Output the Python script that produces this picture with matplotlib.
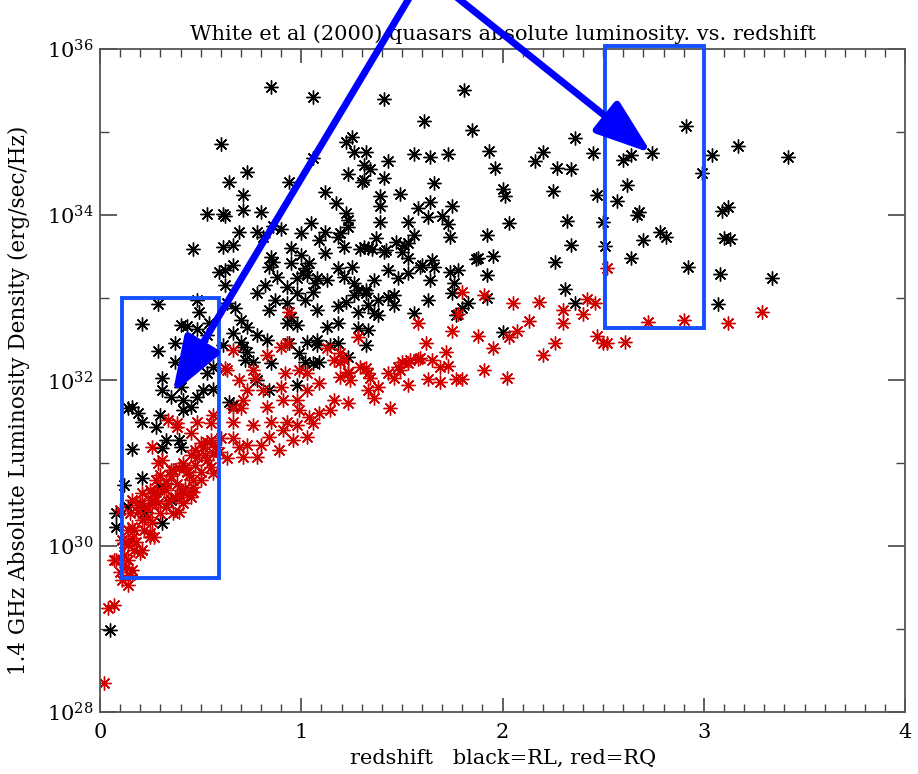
"""
White et al (2000) quasars: 1.4 GHz luminosity density vs redshift.
Black = radio loud (RL), red = radio quiet (RQ). Blue boxes/arrows are
hand-drawn highlights on top of the original IDL plot.
"""

import matplotlib
matplotlib.use("Agg")
import matplotlib.pyplot as plt
import numpy as np
from matplotlib.patches import Rectangle
from matplotlib.ticker import FixedLocator, MultipleLocator, NullFormatter

plt.rcParams["font.family"] = ["DejaVu Serif"]
plt.rcParams["mathtext.fontset"] = "dejavuserif"

# ------------------------------------------------------------------
# data: redshift and log10 of luminosity density (erg/sec/Hz)
# ------------------------------------------------------------------
rl_z = [
    0.85, 1.06, 1.41, 1.81, 0.60, 1.61, 1.85, 2.36, 2.45, 2.20, 2.16, 1.93,
    1.96, 2.27, 2.34, 2.25, 2.47, 2.00, 2.01, 2.03, 2.32, 2.50, 2.34, 2.51,
    2.26, 2.31, 1.92, 1.95, 1.87, 1.88, 1.92, 1.74, 1.75, 1.70, 1.73, 1.64,
    1.66, 1.63, 1.58, 1.53, 1.49, 1.39, 1.39, 1.39, 1.41, 1.43, 1.32, 1.31,
    1.34, 1.31, 1.56, 1.64, 1.73, 1.53, 1.50, 1.53, 1.33, 1.31, 1.35, 1.37,
    1.41, 1.43, 1.48, 1.53, 1.60, 1.65, 1.64, 1.74, 1.78, 1.76, 1.36, 1.32,
    2.91, 2.74, 2.64, 2.60, 2.62, 2.57, 2.67, 2.68, 2.78, 2.81, 2.70, 2.64,
    2.92, 2.99, 3.04, 3.17, 3.42, 3.09, 3.12, 3.10, 3.13, 3.08, 3.34, 2.36,
    3.07, 1.83, 1.80, 1.92, 2.00, 1.77, 1.75, 1.63, 1.56, 1.33, 1.32, 1.43,
    1.36, 0.64, 0.94, 0.71, 0.71, 0.80, 0.61, 1.12, 1.17, 1.22, 1.23, 1.30,
    0.69, 0.78, 0.81, 0.90, 1.00, 1.05, 1.12, 1.09, 1.18, 1.21, 1.12, 0.61,
    0.66, 0.85, 0.95, 1.00, 1.29, 1.42, 1.47, 1.51, 1.56, 1.59, 1.66, 0.62,
    0.62, 0.66, 0.86, 0.88, 0.93, 0.98, 1.02, 1.03, 1.08, 1.13, 1.18, 1.21,
    1.25, 1.26, 1.28, 1.32, 1.46, 1.38, 1.33, 1.26, 1.22, 1.18, 1.28, 1.38,
    1.46, 0.78, 0.84, 0.87, 0.93, 0.98, 1.02, 1.06, 0.95, 0.98, 0.93, 0.67,
    0.70, 0.66, 0.73, 0.78, 0.83, 0.71, 0.72, 0.85, 0.99, 1.03, 1.08, 1.13,
    1.18, 1.28, 1.23, 1.09, 1.02, 0.94, 0.73, 0.53, 0.62, 1.06, 1.22, 1.25,
    1.26, 1.23, 0.46, 0.86, 0.59, 0.84, 0.95, 1.04, 1.01, 1.19, 1.23, 1.07,
    0.82, 0.29, 0.21, 0.48, 0.49, 0.40, 0.43, 0.48, 0.54, 0.53, 0.37, 0.29,
    0.37, 0.56, 0.53, 0.31, 0.40, 0.31, 0.35, 0.41, 0.48, 0.51, 0.56, 0.45,
    0.41, 0.16, 0.14, 0.19, 0.21, 0.30, 0.28, 0.33, 0.31, 0.39, 0.40, 0.16,
    0.21, 0.12, 0.30, 0.35, 0.14, 0.63, 0.70, 0.73, 0.76, 0.78, 0.84, 0.98,
    0.64, 0.66, 0.61, 1.08, 1.18, 1.14, 1.08, 1.06, 0.08, 0.08, 0.05, 0.22,
    0.31,
]
rl_logL = [
    35.54, 35.42, 35.39, 35.50, 34.85, 35.13, 35.02, 34.92, 34.74, 34.76, 34.65, 34.77,
    34.56, 34.56, 34.55, 34.28, 34.24, 34.31, 34.22, 33.90, 33.92, 33.91, 33.63, 33.62,
    33.43, 33.10, 33.75, 33.50, 33.46, 33.48, 33.27, 33.73, 34.10, 33.98, 33.89, 34.15,
    34.38, 33.97, 34.08, 33.91, 34.25, 34.22, 34.10, 33.91, 34.44, 34.65, 34.76, 34.60,
    34.55, 34.42, 34.73, 34.69, 34.73, 33.66, 33.55, 33.48, 33.60, 33.61, 33.59, 33.72,
    33.55, 33.33, 33.24, 33.30, 33.39, 33.45, 33.21, 33.31, 33.33, 33.18, 33.21, 33.09,
    35.07, 34.74, 34.72, 34.66, 34.36, 34.16, 34.00, 34.03, 33.79, 33.73, 33.69, 33.48,
    33.37, 34.50, 34.72, 34.83, 34.69, 34.04, 34.09, 33.72, 33.71, 33.28, 33.24, 32.93,
    32.92, 32.93, 32.87, 32.99, 32.58, 32.79, 33.05, 32.97, 32.81, 32.61, 32.43, 33.01,
    32.81, 34.39, 34.39, 34.24, 34.06, 34.03, 34.01, 34.27, 34.14, 34.02, 33.94, 34.39,
    33.79, 33.79, 33.73, 33.83, 33.78, 33.90, 33.79, 33.69, 33.73, 33.61, 33.54, 33.61,
    33.63, 33.49, 33.60, 33.51, 33.59, 33.57, 33.67, 33.63, 33.75, 33.37, 33.37, 33.33,
    33.15, 33.39, 33.43, 33.25, 33.13, 33.24, 33.36, 33.27, 33.24, 33.21, 33.36, 33.25,
    33.37, 33.18, 33.09, 33.05, 33.03, 32.97, 32.91, 33.03, 32.95, 32.90, 32.83, 32.79,
    32.91, 33.05, 32.85, 32.97, 32.93, 33.05, 32.97, 33.07, 32.76, 32.67, 32.69, 32.87,
    32.73, 32.57, 32.64, 32.55, 32.49, 32.40, 32.25, 32.21, 32.33, 32.46, 32.49, 32.64,
    32.45, 32.63, 32.28, 32.22, 32.22, 32.45, 34.51, 34.01, 33.98, 34.68, 34.88, 34.94,
    34.76, 34.49, 33.59, 33.86, 33.31, 33.37, 33.42, 33.42, 33.30, 33.78, 33.85, 33.18,
    33.15, 32.92, 32.68, 32.97, 32.83, 32.67, 32.66, 32.62, 32.69, 32.55, 32.45, 32.35,
    32.22, 32.16, 32.09, 32.03, 31.92, 31.88, 31.80, 31.76, 31.80, 31.88, 31.90, 31.68,
    31.64, 31.68, 31.67, 31.61, 31.50, 31.58, 31.44, 31.28, 31.18, 31.28, 31.20, 31.17,
    30.82, 30.74, 30.71, 30.56, 30.47, 32.93, 32.46, 32.34, 32.22, 32.00, 31.88, 31.94,
    31.74, 31.70, 32.43, 32.85, 32.69, 32.43, 32.43, 32.21, 30.23, 30.40, 28.99, 30.41,
    30.28,
]

rq_z = [
    1.80, 1.91, 2.52, 2.05, 2.18, 2.30, 2.30, 2.40, 2.42, 2.46, 2.13, 2.07,
    2.03, 1.88, 1.95, 2.26, 2.20, 2.47, 2.50, 2.52, 2.61, 1.91, 2.02, 1.80,
    2.72, 2.90, 3.12, 3.29, 1.78, 1.75, 1.58, 1.62, 1.72, 1.73, 1.65, 1.69,
    1.63, 1.58, 1.53, 1.49, 1.46, 1.53, 1.77, 1.44, 1.32, 1.34, 1.38, 1.33,
    1.36, 0.94, 1.28, 0.66, 0.83, 0.90, 0.93, 0.62, 0.76, 0.92, 1.03, 1.13,
    1.19, 1.23, 1.29, 1.33, 1.43, 1.48, 1.50, 1.54, 1.59, 1.69, 0.34, 0.38,
    0.26, 0.45, 0.50, 0.53, 0.47, 0.41, 0.39, 0.35, 0.29, 0.30, 0.44, 0.46,
    0.40, 0.33, 0.25, 0.21, 0.41, 0.33, 0.26, 0.53, 0.55, 0.56, 0.55, 0.48,
    0.59, 0.56, 0.50, 0.45, 0.36, 0.20, 0.15, 0.10, 0.63, 0.69, 0.73, 0.77,
    0.81, 0.71, 0.66, 0.70, 0.66, 0.76, 0.83, 0.85, 0.84, 0.80, 0.73, 0.69,
    0.66, 0.63, 0.71, 0.78, 0.89, 0.90, 0.91, 0.98, 0.99, 0.93, 0.98, 1.04,
    1.06, 0.99, 1.03, 1.09, 1.16, 1.19, 1.23, 1.24, 1.16, 1.21, 1.19, 1.14,
    1.23, 1.09, 1.03, 0.96, 0.91, 0.08, 0.11, 0.16, 0.20, 0.25, 0.26, 0.28,
    0.31, 0.33, 0.36, 0.40, 0.42, 0.46, 0.48, 0.51, 0.55, 0.56, 0.38, 0.02,
    0.04, 0.07, 0.11, 0.14, 0.16, 0.14, 0.17, 0.21, 0.14, 0.16, 0.14, 0.17,
    0.25, 0.27, 0.21, 0.26, 0.19, 0.24, 0.29, 0.39, 0.37, 0.27, 0.32, 0.41,
    0.46, 0.16, 0.12, 0.10, 0.07, 0.13, 0.15, 0.12, 0.18, 0.22, 0.24, 0.30,
    0.34, 0.38, 0.43, 0.47, 0.52, 0.57, 0.60, 0.45, 0.35, 0.28, 0.20, 0.50,
    0.42,
]
rq_logL = [
    33.07, 33.03, 33.36, 32.93, 32.95, 32.85, 32.69, 32.80, 32.98, 32.93, 32.72, 32.60,
    32.52, 32.54, 32.39, 32.45, 32.31, 32.54, 32.45, 32.45, 32.46, 32.13, 32.03, 32.02,
    32.70, 32.73, 32.69, 32.83, 32.80, 32.60, 32.69, 32.45, 32.34, 32.17, 32.25, 31.98,
    32.02, 32.26, 32.21, 32.13, 32.03, 31.94, 32.02, 31.67, 32.15, 32.03, 31.92, 31.88,
    31.79, 32.83, 32.52, 32.37, 32.31, 32.40, 32.45, 32.15, 32.13, 32.09, 32.09, 32.39,
    32.22, 32.10, 32.16, 32.09, 32.09, 32.16, 32.22, 32.25, 32.27, 32.16, 31.52, 31.49,
    31.20, 31.37, 31.24, 31.26, 31.16, 31.00, 30.94, 30.92, 31.00, 30.86, 30.86, 30.71,
    30.68, 30.68, 30.68, 30.64, 30.52, 30.47, 30.52, 31.04, 30.96, 31.58, 31.49, 31.50,
    31.14, 30.88, 30.80, 30.59, 30.40, 30.52, 30.40, 30.44, 32.13, 32.00, 31.88, 32.03,
    31.88, 31.76, 31.67, 31.67, 31.50, 31.46, 31.68, 31.50, 31.32, 31.22, 31.22, 31.20,
    31.31, 31.06, 31.08, 31.08, 31.16, 31.92, 31.76, 31.76, 31.64, 31.50, 31.46, 31.56,
    31.49, 32.13, 31.88, 31.97, 31.76, 32.04, 32.09, 32.00, 32.25, 32.25, 32.33, 31.64,
    31.73, 31.61, 31.32, 31.28, 31.40, 29.83, 30.07, 30.23, 29.92, 30.11, 30.56, 30.80,
    31.04, 30.76, 30.92, 30.59, 30.96, 30.80, 31.08, 31.20, 31.28, 31.12, 31.44, 28.35,
    29.25, 29.29, 29.59, 29.53, 29.71, 29.83, 29.95, 29.95, 30.01, 30.10, 30.20, 30.20,
    30.16, 30.11, 30.32, 30.29, 30.41, 30.46, 30.52, 30.41, 30.59, 30.64, 30.70, 30.65,
    30.65, 30.56, 30.04, 29.69, 29.83, 29.75, 29.65, 29.90, 30.05, 30.20, 30.35, 30.40,
    30.55, 30.75, 30.90, 30.98, 31.10, 31.20, 31.30, 31.10, 30.85, 30.65, 30.50, 30.90,
    30.70,
]

# highlight boxes: (z_min, z_max, logL_min, logL_max)
low_z_box = (0.11, 0.59, 29.62, 33.0)
high_z_box = (2.51, 3.0, 32.63, 36.03)
# arrow tips (z, logL) and tails (figure fraction)
arrow_tips = [(0.36, 31.84), (2.74, 34.74)]
arrow_tails = [(0.447, 1.005), (0.496, 1.005)]

TITLE = "White et al (2000) quasars absolute luminosity. vs. redshift"
XLABEL = "redshift   black=RL, red=RQ"
YLABEL = "1.4 GHz Absolute Luminosity Density (erg/sec/Hz)"


# ------------------------------------------------------------------
def main():
    fig = plt.figure(figsize=(9.18, 7.74), dpi=100)
    ax = fig.add_axes([0.109, 0.080, 0.877, 0.857])

    star = (8, 2, 0)   # IDL psym=2 style asterisk
    ax.plot(rl_z, 10.0 ** np.array(rl_logL), ls="none", marker=star,
            ms=10, mew=1.0, color="black")
    ax.plot(rq_z, 10.0 ** np.array(rq_logL), ls="none", marker=star,
            ms=10, mew=1.0, color="#d10000")

    ax.set_yscale("log")
    ax.set_xlim(0, 4)
    ax.set_ylim(1e28, 1e36)

    ax.xaxis.set_major_locator(MultipleLocator(1))
    ax.xaxis.set_minor_locator(MultipleLocator(0.1))
    ax.yaxis.set_major_locator(FixedLocator([10.0 ** e for e in range(28, 37, 2)]))
    ax.yaxis.set_minor_locator(FixedLocator([10.0 ** e for e in range(29, 36, 2)]))
    ax.yaxis.set_minor_formatter(NullFormatter())

    ax.tick_params(which="both", direction="in", top=True, right=True,
                   color="#444444", labelsize=15)
    ax.tick_params(axis="x", which="major", length=10, width=1.2, pad=8)
    ax.tick_params(axis="x", which="minor", length=5.5, width=1.0)
    ax.tick_params(axis="y", which="major", length=12, width=1.2, pad=5)
    ax.tick_params(axis="y", which="minor", length=6.5, width=1.0)
    for spine in ax.spines.values():
        spine.set_edgecolor("#555555")
        spine.set_linewidth(1.3)

    ax.set_title(TITLE, fontsize=15, pad=6)
    ax.set_xlabel(XLABEL, fontsize=15, labelpad=5)
    ax.set_ylabel(YLABEL, fontsize=15.5)
    ax.yaxis.set_label_coords(-0.087, 0.47)

    # blue highlight boxes
    for z0, z1, l0, l1 in (low_z_box, high_z_box):
        ax.add_patch(Rectangle((z0, 10.0 ** l0), z1 - z0, 10.0 ** l1 - 10.0 ** l0,
                               fill=False, ec="#1450ff", lw=2.8, clip_on=False,
                               zorder=5))

    # blue arrows coming in from above the plot
    for (tz, tl), tail in zip(arrow_tips, arrow_tails):
        ax.annotate("", xy=(tz, 10.0 ** tl), xycoords="data",
                    xytext=tail, textcoords="figure fraction",
                    arrowprops=dict(arrowstyle="-|>,head_length=1.7,head_width=0.6",
                                    mutation_scale=20, lw=5, color="#0000ff",
                                    shrinkA=0, shrinkB=0),
                    annotation_clip=False, zorder=6)

    fig.savefig("out.png", dpi=100, facecolor="white")
    plt.close(fig)


if __name__ == "__main__":
    main()
